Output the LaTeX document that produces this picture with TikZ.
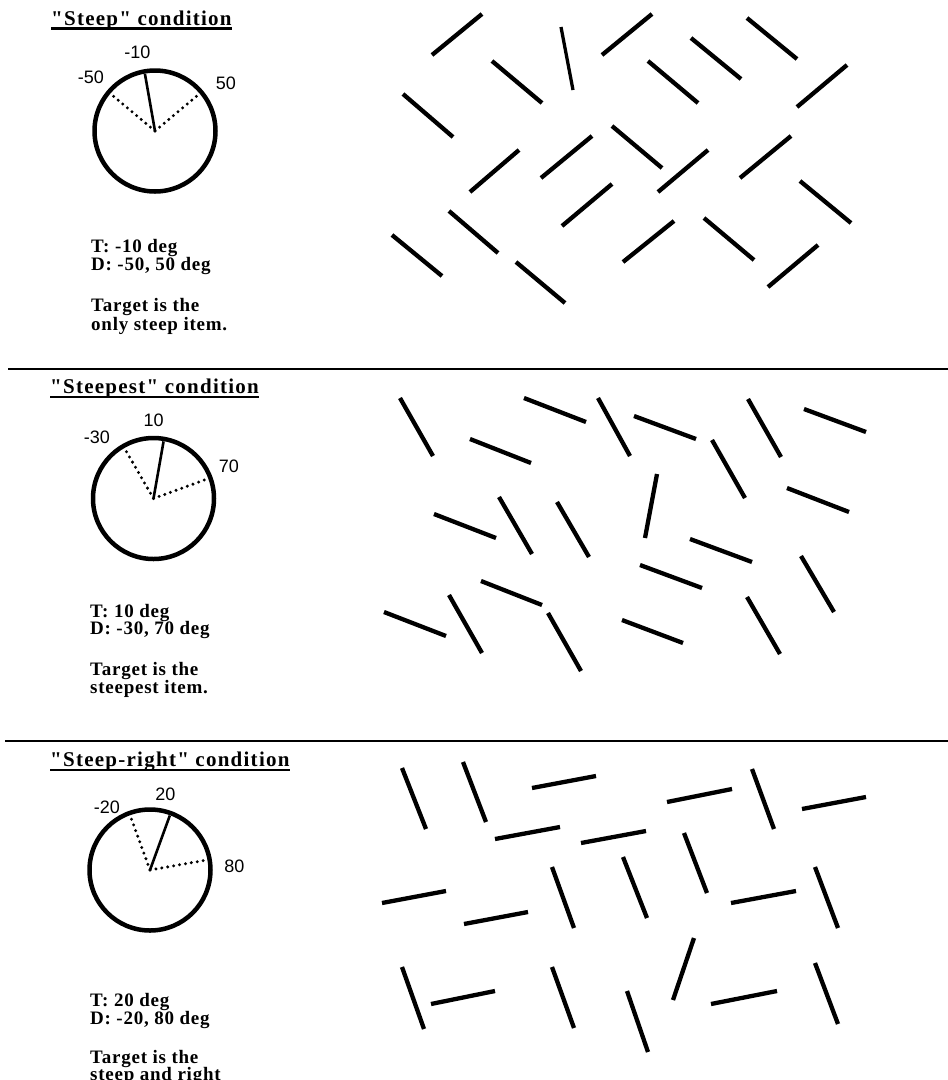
\documentclass[tikz,border=0pt]{standalone}
\usepackage{fontspec}
\setmainfont{Liberation Serif}
\setsansfont{Liberation Sans}
\newfontfamily\titlefont[LetterSpace=6]{Liberation Serif}
\newfontfamily\infofont[LetterSpace=4]{Liberation Serif}

\begin{document}
\begin{tikzpicture}[x=1pt, y=-1pt,
    bar/.style={line width=4.3pt},
    dial/.style={line width=4.5pt},
    hand/.style={line width=2.6pt},
    lure/.style={line width=3.3pt, line cap=round, dash pattern=on 0pt off 6pt},
    rule/.style={line width=1.8pt},
    title/.style={inner sep=0pt, anchor=base west,
                  font=\titlefont\bfseries\fontsize{21}{23}\selectfont},
    info/.style={inner sep=0pt, anchor=base west,
                 font=\infofont\bfseries\fontsize{19}{20}\selectfont},
    deg/.style={inner sep=0pt, font=\sffamily\fontsize{18}{20}\selectfont}]
    \useasboundingbox (0,0) rectangle (948,1080);

    % "Steep" condition
    \node[title] (h1) at (51,25) {"Steep" condition};
    \draw[rule, line width=2.2pt] ([yshift=-3.5pt]h1.base west) -- ([yshift=-3.5pt]h1.base east);
    \coordinate (c1) at (155,131);
    \draw[dial] (c1) circle[radius=60.5pt];
    \draw[lure] (c1) -- ++(140:57pt);
    \draw[lure] (c1) -- ++(40:57pt);
    \draw[hand] (c1) -- ++(100:58pt);
    \node[deg] (t1) at (137.5,52) {-10};
    \node[deg] (da1) at (91,77) {-50};
    \node[deg] (db1) at (226,83) {50};
    \node[info] (td1) at (91,252) {T: -10 deg};
    \node[info] (dd1) at (91,270.5) {D: -50, 50 deg};
    \node[info] (ga1) at (91,311) {Target is the};
    \node[info] (gb1) at (91,330) {only steep item.};
    \draw[bar, line width=3.3pt] (561,27) -- (573,90);
    \foreach \xa/\ya/\xb/\yb in {432/55/482/14, 492/61/542/103, 403/94/453/137,
        470/192/519/150, 541/178/592/136, 562/226/612/184, 449/211/498/253,
        392/235/442/276, 516/262/565/303, 602/55/652/14, 648/61/698/103,
        691/38/741/79, 747/18/797/59, 797/107/847/65, 612/126/662/168,
        658/192/708/150, 740/178/791/136, 800/181/851/223, 704/218/754/260,
        768/287/818/245, 623/262/674/221}
      \draw[bar] (\xa,\ya) -- (\xb,\yb);

    \draw[rule] (8,369) -- (948,369);

    % "Steepest" condition
    \node[title] (h2) at (50,393.5) {"Steepest" condition};
    \draw[rule, line width=2.2pt] ([yshift=-3.5pt]h2.base west) -- ([yshift=-3.5pt]h2.base east);
    \coordinate (c2) at (153.5,498.5);
    \draw[dial] (c2) circle[radius=60.5pt];
    \draw[lure] (c2) -- ++(120:57pt);
    \draw[lure] (c2) -- ++(20:57pt);
    \draw[hand] (c2) -- ++(80:58pt);
    \node[deg] (t2) at (153.7,420) {10};
    \node[deg] (da2) at (97,437.5) {-30};
    \node[deg] (db2) at (229,466) {70};
    \node[info] (td2) at (90,617) {T: 10 deg};
    \node[info] (dd2) at (90,634.5) {D: -30, 70 deg};
    \node[info] (ga2) at (90,675) {Target is the};
    \node[info] (gb2) at (90,693.5) {steepest item.};
    \foreach \xa/\ya/\xb/\yb in {400/398/433/456, 524/398/586/422, 470/439/531/463,
        598/398/630/456, 434/514/496/538, 499/497/532/554, 557/502/589/557,
        481/581/542/605, 384/612/446/636, 449/595/482/653, 548/613/581/671,
        622/620/683/643, 634/416/696/439, 748/399/781/457, 804/409/866/432,
        712/440/745/498, 657/474/645/538, 787/488/849/512, 690/539/752/562,
        640/565/702/588, 801/556/834/612, 747/597/780/654}
      \draw[bar] (\xa,\ya) -- (\xb,\yb);

    \draw[rule] (5,741) -- (948,741);

    % "Steep-right" condition
    \node[title] (h3) at (50,766.5) {"Steep-right" condition};
    \draw[rule, line width=2.2pt] ([yshift=-3.5pt]h3.base west) -- ([yshift=-3.5pt]h3.base east);
    \coordinate (c3) at (150,870);
    \draw[dial] (c3) circle[radius=60.5pt];
    \draw[lure] (c3) -- ++(110:57pt);
    \draw[lure] (c3) -- ++(10:57pt);
    \draw[hand] (c3) -- ++(70:58pt);
    \node[deg] (t3) at (165.5,794) {20};
    \node[deg] (da3) at (107,807) {-20};
    \node[deg] (db3) at (234.5,866) {80};
    \node[info] (td3) at (90,1006.5) {T: 20 deg};
    \node[info] (dd3) at (90,1024.5) {D: -20, 80 deg};
    \node[info] (ga3) at (90,1063.5) {Target is the};
    \node[info] (gb3) at (90,1080.5) {steep and right};
    \foreach \xa/\ya/\xb/\yb in {402/768/426/829, 463/762/486/822, 532/788/596/776,
        495/839/560/827, 581/843/646/831, 382/903/446/891, 464/924/528/912,
        552/867/574/928, 623/857/647/918, 402/967/424/1029, 431/1004/495/991,
        552/967/574/1028, 627/991/648/1052, 667/802/732/789, 752/769/774/829,
        802/809/866/797, 684/833/707/893, 731/903/796/891, 815/867/838/928,
        694/938/673/1000, 711/1004/777/991, 815/963/838/1024}
      \draw[bar] (\xa,\ya) -- (\xb,\yb);
\end{tikzpicture}
\end{document}
